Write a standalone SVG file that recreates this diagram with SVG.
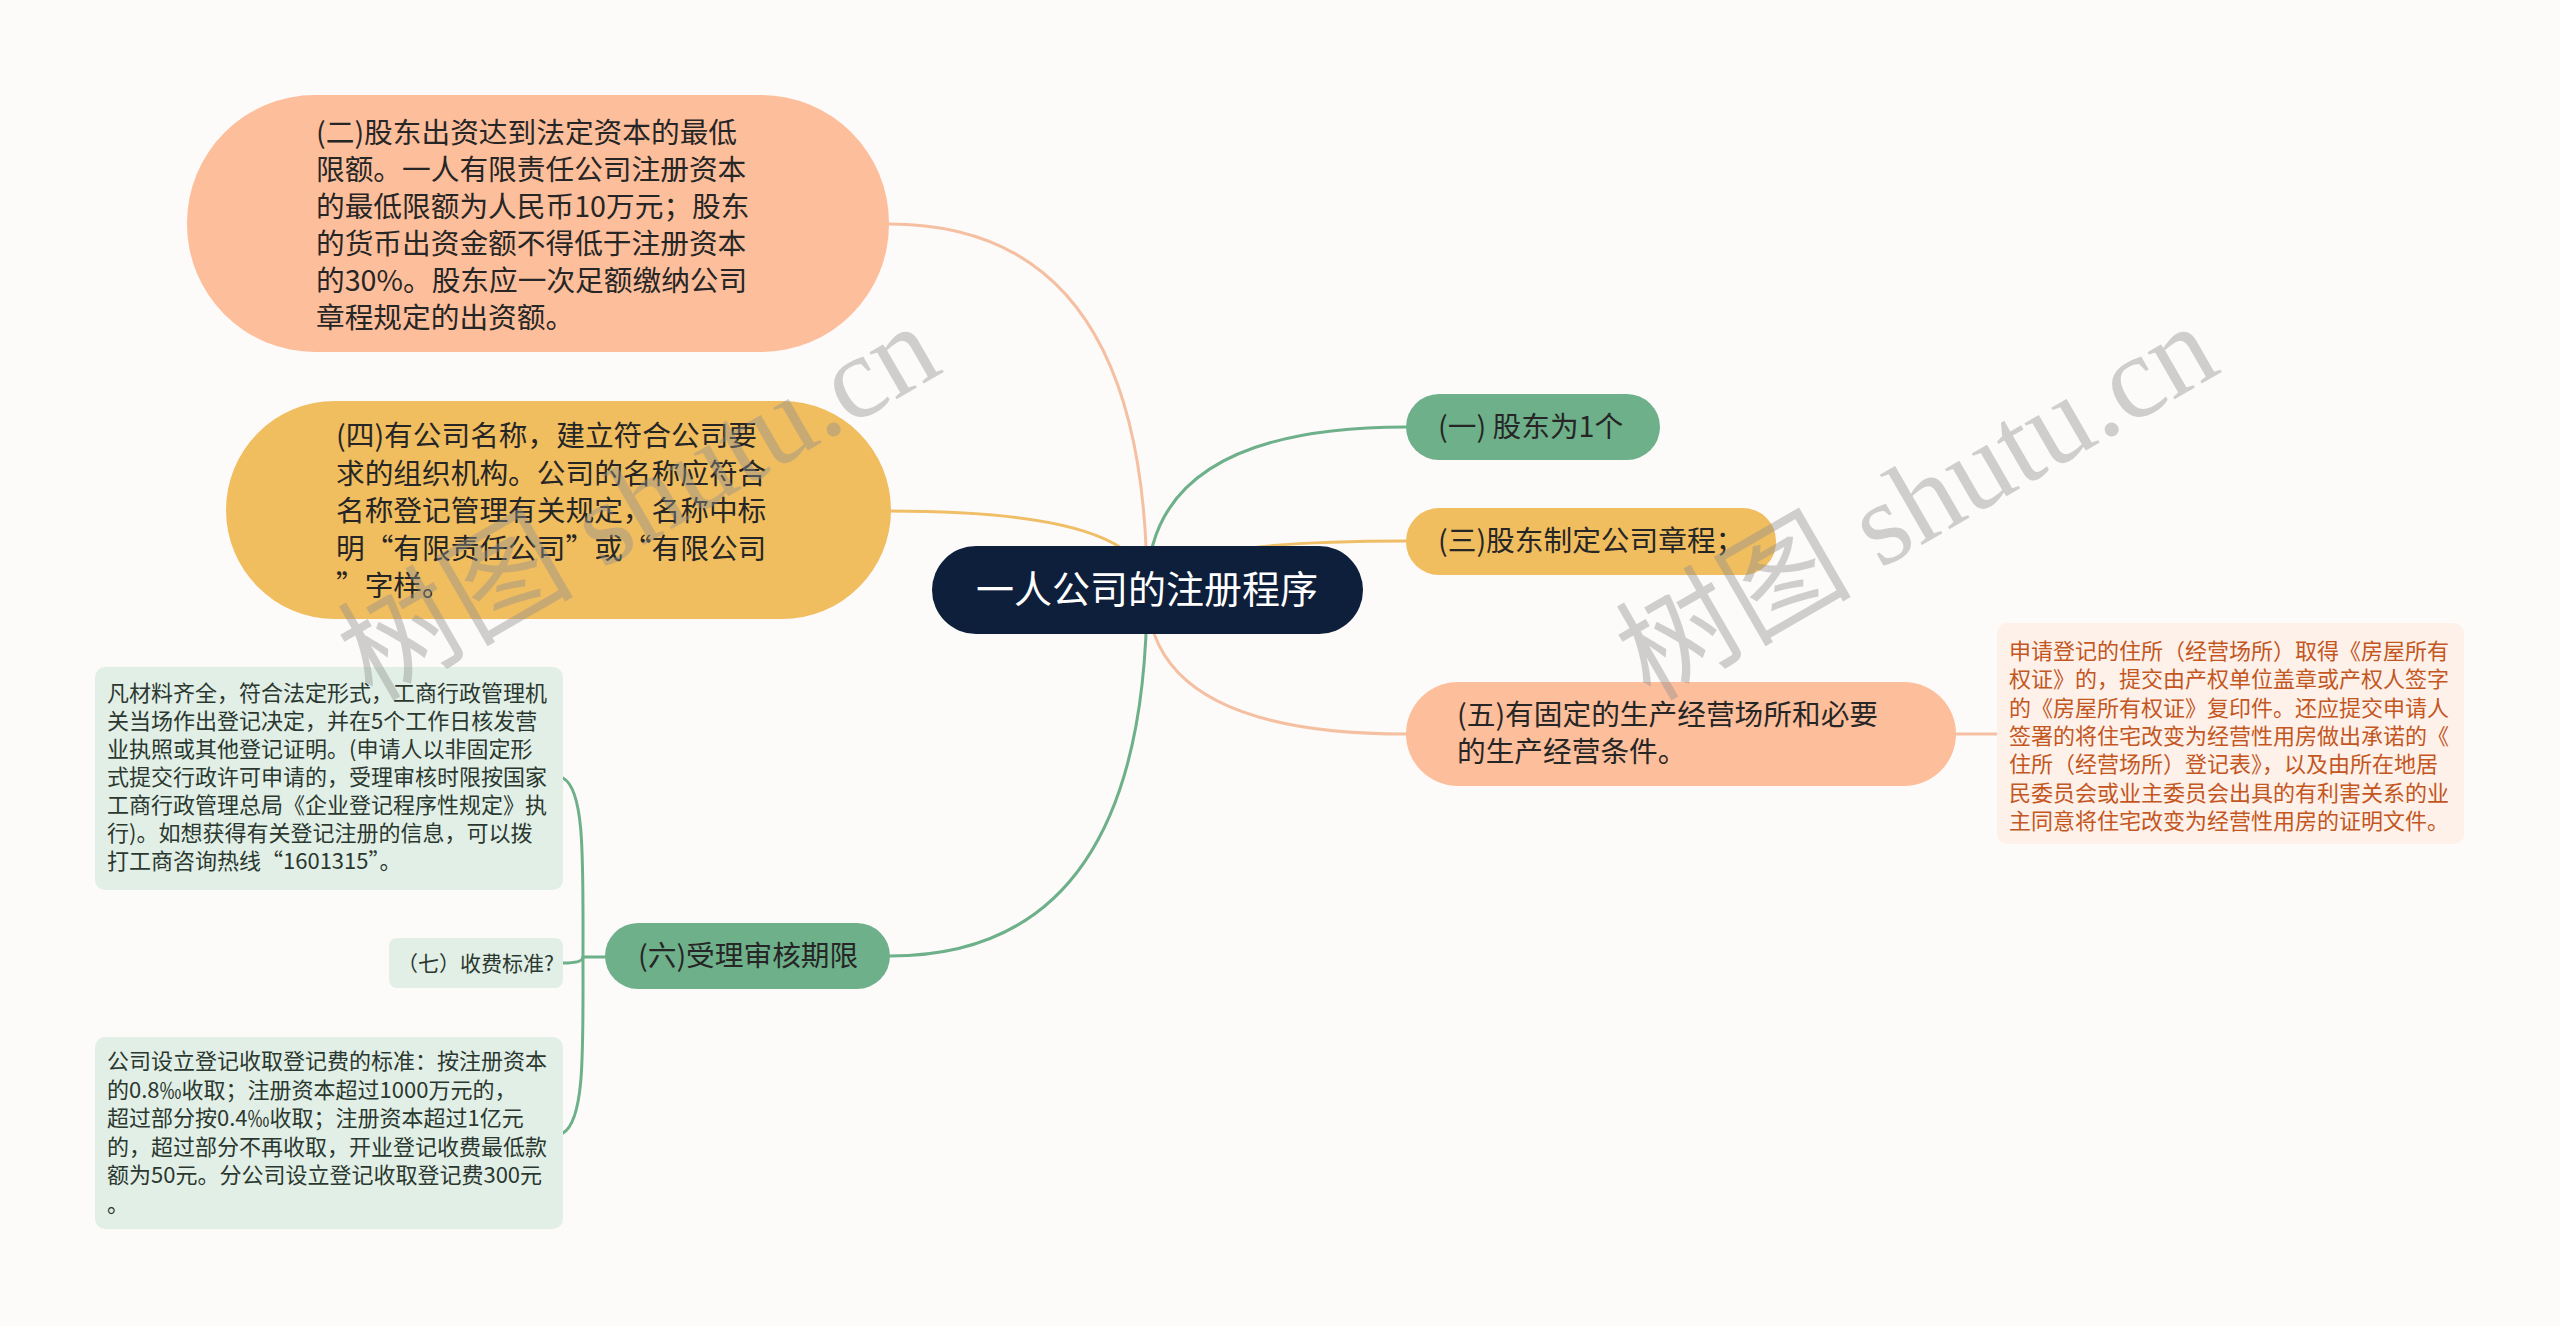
<svg xmlns="http://www.w3.org/2000/svg" width="2560" height="1326" viewBox="0 0 2560 1326">
<style>
  .t { font-family: "Noto Sans CJK SC", "Noto Sans", sans-serif; fill: #262626; }
  .main { font-size: 28.7px; }
  .leaf { font-size: 22px; fill: #2b3830; }
  .leafo { font-size: 22px; fill: #c4561f; }
  .root { font-size: 38px; fill: #ffffff; }
  .c { fill: none; stroke-width: 3; stroke-linecap: round; }
  .cg { stroke: #6eb08a; }
  .cy { stroke: #efbe66; }
  .cs { stroke: #f5c0a2; }
  .wm { font-family: "Liberation Serif", "Noto Sans CJK SC", serif; font-size: 118px; fill: #8f8f8f; fill-opacity: 0.42; }
</style>
<rect x="0" y="0" width="2560" height="1326" fill="#fdfbfa"/>

<g id="connectors">
  <path class="c cs" d="M1147 590 Q1147 224 889 224"/>
  <path class="c cy" d="M1147 590 Q1147 511 890 511"/>
  <path class="c cg" d="M1147 590 Q1147 956 890 956"/>
  <path class="c cg" d="M1147 590 Q1147 427 1406 427"/>
  <path class="c cy" d="M1147 590 Q1147 541 1406 541"/>
  <path class="c cs" d="M1147 590 Q1147 734 1406 734"/>
  <path class="c cs" d="M1956 734 L1997 734"/>
  <path class="c cg" d="M605 957 L583 957"/>
  <path class="c cg" d="M583 957 C583 860 585 790 563 778"/>
  <path class="c cg" d="M583 957 Q583 963 563 963"/>
  <path class="c cg" d="M583 957 C583 1050 585 1120 563 1133"/>
</g>

<g id="root">
  <rect x="932" y="546" width="431" height="88" rx="44" fill="#0e1f3b"/>
  <text class="t root" x="1147" y="603" text-anchor="middle">一人公司的注册程序</text>
</g>

<g id="n1">
  <rect x="1406" y="394" width="254" height="66" rx="33" fill="#6eb08a"/>
  <text class="t main" x="1438" y="437">(一) 股东为1个</text>
</g>

<g id="n3">
  <rect x="1406" y="508" width="370" height="67" rx="33" fill="#f0bd5f"/>
  <text class="t main" x="1438" y="551">(三)股东制定公司章程；</text>
</g>

<g id="n5">
  <rect x="1406" y="682" width="550" height="104" rx="52" fill="#fdbe9b"/>
  <text class="t main" x="1457" y="725">(五)有固定的生产经营场所和必要</text>
  <text class="t main" x="1457" y="762">的生产经营条件。</text>
</g>

<g id="n5-leaf">
  <rect x="1997" y="623" width="467" height="221" rx="10" fill="#fdf1e9"/>
  <text class="t leafo" x="2009" y="659">申请登记的住所（经营场所）取得《房屋所有</text>
  <text class="t leafo" x="2009" y="687.3">权证》的，提交由产权单位盖章或产权人签字</text>
  <text class="t leafo" x="2009" y="715.6">的《房屋所有权证》复印件。还应提交申请人</text>
  <text class="t leafo" x="2009" y="743.9">签署的将住宅改变为经营性用房做出承诺的《</text>
  <text class="t leafo" x="2009" y="772.2">住所（经营场所）登记表》，以及由所在地居</text>
  <text class="t leafo" x="2009" y="800.5">民委员会或业主委员会出具的有利害关系的业</text>
  <text class="t leafo" x="2009" y="828.8">主同意将住宅改变为经营性用房的证明文件。</text>
</g>

<g id="n2">
  <rect x="187" y="95" width="702" height="257" rx="128" fill="#fdbe9b"/>
  <text class="t main" x="316" y="143">(二)股东出资达到法定资本的最低</text>
  <text class="t main" x="316" y="180">限额。一人有限责任公司注册资本</text>
  <text class="t main" x="316" y="217">的最低限额为人民币10万元；股东</text>
  <text class="t main" x="316" y="254">的货币出资金额不得低于注册资本</text>
  <text class="t main" x="316" y="291">的30%。股东应一次足额缴纳公司</text>
  <text class="t main" x="316" y="328">章程规定的出资额。</text>
</g>

<g id="n4">
  <rect x="226" y="401" width="665" height="218" rx="109" fill="#f0bd5f"/>
  <text class="t main" x="336" y="446">(四)有公司名称，建立符合公司要</text>
  <text class="t main" x="336" y="483.5">求的组织机构。公司的名称应符合</text>
  <text class="t main" x="336" y="521">名称登记管理有关规定，名称中标</text>
  <text class="t main" x="336" y="558.5">明“有限责任公司”或“有限公司</text>
  <text class="t main" x="336" y="596">”字样。</text>
</g>

<g id="n6">
  <rect x="605" y="923" width="285" height="66" rx="33" fill="#6eb08a"/>
  <text class="t main" x="638" y="966">(六)受理审核期限</text>
</g>

<g id="n6-leaf1">
  <rect x="95" y="667" width="468" height="223" rx="10" fill="#e2efe6"/>
  <text class="t leaf" x="107" y="701">凡材料齐全，符合法定形式，工商行政管理机</text>
  <text class="t leaf" x="107" y="729">关当场作出登记决定，并在5个工作日核发营</text>
  <text class="t leaf" x="107" y="757">业执照或其他登记证明。(申请人以非固定形</text>
  <text class="t leaf" x="107" y="785">式提交行政许可申请的，受理审核时限按国家</text>
  <text class="t leaf" x="107" y="813">工商行政管理总局《企业登记程序性规定》执</text>
  <text class="t leaf" x="107" y="841">行)。如想获得有关登记注册的信息，可以拨</text>
  <text class="t leaf" x="107" y="869">打工商咨询热线“1601315”。</text>
</g>

<g id="n7">
  <rect x="389" y="938" width="174" height="50" rx="8" fill="#e2efe6"/>
  <text class="t leaf" x="397" y="971" style="font-size:21px">（七）收费标准?</text>
</g>

<g id="n6-leaf3">
  <rect x="95" y="1037" width="468" height="192" rx="10" fill="#e2efe6"/>
  <text class="t leaf" x="107" y="1069">公司设立登记收取登记费的标准：按注册资本</text>
  <text class="t leaf" x="107" y="1097.5">的0.8‰收取；注册资本超过1000万元的，</text>
  <text class="t leaf" x="107" y="1126">超过部分按0.4‰收取；注册资本超过1亿元</text>
  <text class="t leaf" x="107" y="1154.5">的，超过部分不再收取，开业登记收费最低款</text>
  <text class="t leaf" x="107" y="1183">额为50元。分公司设立登记收取登记费300元</text>
  <text class="t leaf" x="107" y="1211.5">。</text>
</g>

<g id="watermark">
  <text class="wm" transform="translate(372 702) rotate(-30)">树图 shutu.cn</text>
  <text class="wm" transform="translate(1650 702) rotate(-30)">树图 shutu.cn</text>
</g>
</svg>
